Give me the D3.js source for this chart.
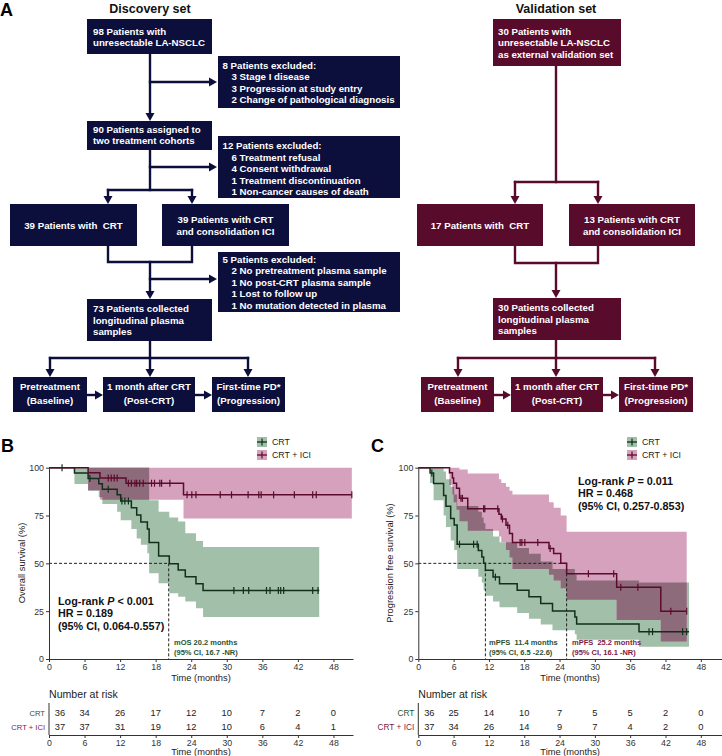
<!DOCTYPE html>
<html><head><meta charset="utf-8">
<script src="https://cdn.jsdelivr.net/npm/d3@7/dist/d3.min.js"></script>
<style>
body{margin:0;background:#fff}
svg{display:block}
text{font-family:"Liberation Sans",Arial,sans-serif;white-space:pre}
</style>
</head><body>
<svg id="c" width="722" height="756"></svg>
<script>
// ================= DATA =================
// Panel A flowchart texts
const discTop      = ["98 Patients with", "unresectable LA-NSCLC"];
const discExcl1    = ["8 Patients excluded:", "3 Stage I disease", "3 Progression at study entry", "2 Change of pathological diagnosis"];
const discAssigned = ["90 Patients assigned to", "two treatment cohorts"];
const discExcl2    = ["12 Patients excluded:", "6 Treatment refusal", "4 Consent withdrawal", "1 Treatment discontinuation", "1 Non-cancer causes of death"];
const discCRT      = ["39 Patients with  CRT"];
const discICI      = ["39 Patients with CRT", "and consolidation ICI"];
const discExcl3    = ["5 Patients excluded:", "2 No pretreatment plasma sample", "1 No post-CRT plasma sample", "1 Lost to follow up", "1 No mutation detected in plasma"];
const discPlasma   = ["73 Patients collected", "longitudinal plasma", "samples"];
const timepoints   = [["Pretreatment", "(Baseline)"], ["1 month after CRT", "(Post-CRT)"], ["First-time PD*", "(Progression)"]];
const valTop       = ["30 Patients with", "unresectable LA-NSCLC", "as external validation set"];
const valCRT       = ["17 Patients with  CRT"];
const valICI       = ["13 Patients with CRT", "and consolidation ICI"];
const valPlasma    = ["30 Patients collected", "longitudinal plasma", "samples"];

// Panel B: overall survival (months, %)
const osCrtTime   = [0, 4.3, 6.6, 8.4, 9.0, 11.5, 12.1, 13.9, 14.8, 15.5, 16.6, 16.9, 18.5, 20.3, 21.8, 23.0, 24.8, 26.0];
const osCrtSurv   = [100, 97.2, 94.4, 91.6, 88.8, 85.8, 82.6, 79.0, 75.3, 71.6, 67.9, 60.9, 53.8, 49.8, 46.5, 43.0, 39.4, 35.8];
const osCrtUpper  = [100, 100, 100, 100, 100, 100, 100, 100, 100, 100, 83, 77, 74, 71.9, 65.8, 61.7, 58.5];
const osCrtLower  = [91.5, 88, 84.5, 81, 77, 72.5, 68, 63, 59.7, 55.3, 44.8, 39.6, 34.4, 32.6, 30.0, 26.5, 22.0];
const osCrtCensor = [2.2, 6.9, 10.0, 12.3, 12.8, 13.4, 31.2, 32.8, 33.7, 36.7, 37.3, 38.7, 39.1, 39.6, 44.5, 45.4];
const osCrtEnd    = 45.6;
const osIciTime   = [0, 6.6, 8.6, 13.0, 22.7];
const osIciSurv   = [100, 97.3, 94.6, 91.9, 85.8];
const osIciUpper  = [100, 100, 100, 100];
const osIciLower  = [88.2, 83.2, 83.2, 73.5];
const osIciCensor = [10.0, 10.5, 11.0, 11.5, 13.4, 13.9, 14.5, 14.8, 15.3, 15.9, 17.3, 17.8, 18.7, 19.0, 20.4, 23.3, 24.1, 24.8, 28.9, 30.8, 33.6, 35.4, 35.8, 37.9, 41.4, 44.5, 45.1, 51.1];
const osIciEnd    = 51.1;

// Panel C: progression free survival
const pfsCrtTime   = [0, 2.0, 2.6, 4.3, 4.7, 5.5, 6.1, 6.6, 10.2, 10.8, 11.1, 11.4, 12.7, 13.8, 16.8, 18.8, 20.8, 22.8, 26.6, 26.9, 37.5];
const pfsCrtSurv   = [100, 97.2, 91.7, 85.5, 79.8, 73.4, 70.0, 60.0, 56.7, 53.3, 50.0, 46.4, 42.8, 39.3, 36.0, 32.5, 29.0, 25.1, 22.0, 18.3, 14.3];
const pfsCrtUpper  = [100, 100, 98, 94, 90, 86, 80, 77, 74, 71, 68, 64, 61, 58, 55, 51, 47, 44, 41, 40];
const pfsCrtLower  = [92, 83, 75, 69, 62, 57, 47, 43, 40, 36, 33, 30, 27, 24, 21, 18, 15, 13, 10, 6.4];
const pfsCrtCensor = [2.3, 7.0, 9.4, 10.0, 13.1, 39.2, 39.8, 44.9, 45.6];
const pfsCrtEnd    = 46.0;
const pfsIciTime   = [0, 5.3, 5.8, 6.0, 6.5, 7.0, 8.4, 13.7, 14.1, 14.9, 15.5, 16.0, 22.2, 23.0, 24.2, 25.2, 33.7, 41.2];
const pfsIciSurv   = [100, 97.3, 94.6, 91.9, 89.2, 84.0, 78.5, 75.7, 73.2, 69.9, 65.6, 60.9, 57.7, 55.1, 50.0, 44.6, 37.5, 24.9];
const pfsIciUpper  = [100, 100, 100, 100, 99, 97, 94, 92, 90, 88, 86, 82, 79, 75, 66.5, 66.5, 66.5];
const pfsIciLower  = [91, 86, 82, 78, 72, 67, 64, 61, 57, 53, 47, 44, 41, 37, 31, 20.4, 9.1];
const pfsIciCensor = [7.25, 7.5, 11.1, 11.3, 13.5, 14.3, 15.2, 17.3, 17.6, 18.1, 20.3, 22.4, 28.9, 33.2, 34.4, 37.3, 42.9, 45.6];
const pfsIciEnd    = 45.6;

// Number at risk
const riskTimes     = [0, 6, 12, 18, 24, 30, 36, 42, 48];
const riskOsCrt     = [36, 34, 26, 17, 12, 10, 7, 2, 0];
const riskOsIci     = [37, 37, 31, 19, 12, 10, 6, 4, 1];
const riskPfsCrt    = [36, 25, 14, 10, 7, 5, 5, 2, 0];
const riskPfsIci    = [37, 34, 26, 14, 9, 7, 4, 2, 0];
const survTicks     = [0, 25, 50, 75, 100];
const groupLabels   = ["CRT", "CRT + ICI"];

// ================= STYLE =================
const NAVY = "#0c0f3b", MAROON = "#590b2c";
const GREEN_LINE = "#10301a", PINK_LINE = "#5c0b2c";
const GREEN_BAND = "#a2bfaa", PINK_BAND = "#d5a1bc", OVERLAP = "#8d6b7a";
const GREEN_TXT = "#2a5233", PINK_TXT = "#7d1a45";
const FONT = '"Liberation Sans",Arial,sans-serif';

const svg = d3.select("#c");

// ================= PANEL A =================
const gA = svg.append("g");
gA.append("text").attr("x", 0).attr("y", 16).attr("font-size", 18).attr("font-weight", "bold").text("A");
gA.append("text").attr("x", 150).attr("y", 13).attr("text-anchor", "middle").attr("font-size", 12.5)
  .attr("font-family", '"Open Sans",sans-serif').attr("font-weight", 600).attr("fill", "#111").text("Discovery set");
gA.append("text").attr("x", 556).attr("y", 13).attr("text-anchor", "middle").attr("font-size", 12.5)
  .attr("font-family", '"Open Sans",sans-serif').attr("font-weight", 600).attr("fill", "#111").text("Validation set");

const linesG = gA.append("g"), boxesG = gA.append("g");
function conn(pts, color) {
  linesG.append("path").attr("d", d3.line()(pts)).attr("fill", "none").attr("stroke", color)
    .attr("stroke-width", 2.4).attr("stroke-linecap", "square").attr("stroke-linejoin", "miter");
}
function head(x, y, dir, color) {
  const p = dir === "down" ? [[x - 4.5, y - 8], [x + 4.5, y - 8], [x, y]] : [[x - 8, y - 4.5], [x - 8, y + 4.5], [x, y]];
  boxesG.append("path").attr("d", d3.line()(p) + "Z").attr("fill", color);
}
function arrowDown(x, y0, y1, color) { conn([[x, y0], [x, y1 - 7]], color); head(x, y1, "down", color); }
function arrowRight(x0, x1, y, color) { conn([[x0, y], [x1 - 7, y]], color); head(x1, y, "right", color); }
function box(x, y, w, h, fill, lines, o) {
  boxesG.append("rect").attr("x", x).attr("y", y).attr("width", w).attr("height", h).attr("fill", fill);
  lines.forEach((s, i) => {
    const t = boxesG.append("text").attr("fill", "#fff").attr("font-weight", "bold").attr("font-size", o.fs || 9.7)
      .attr("y", o.b0 + i * o.lh).text(s);
    if (o.center) t.attr("x", x + w / 2).attr("text-anchor", "middle");
    else t.attr("x", x + (o.pad || 6) + (i > 0 ? (o.indent || 0) : 0));
  });
}

// Discovery connectors
arrowDown(150, 54, 121, NAVY);
arrowRight(150, 217, 82, NAVY);
conn([[150, 150], [150, 190]], NAVY);
conn([[108, 190], [192, 190]], NAVY);
arrowDown(108, 190, 204, NAVY);
arrowDown(192, 190, 204, NAVY);
arrowRight(150, 217, 167, NAVY);
conn([[108, 246], [108, 262], [192, 262], [192, 246]], NAVY);
arrowDown(150, 262, 299, NAVY);
arrowRight(150, 217, 279, NAVY);
conn([[150, 341], [150, 358]], NAVY);
conn([[50, 358], [248, 358]], NAVY);
[50, 150, 248].forEach(x => arrowDown(x, 358, 377, NAVY));
arrowRight(87, 103, 395, NAVY);
arrowRight(195, 212, 395, NAVY);

// Discovery boxes
box(87, 19, 125, 35, NAVY, discTop, {b0: 34.5, lh: 11.5});
box(218, 56, 182, 52, NAVY, discExcl1, {b0: 68.5, lh: 11.6, pad: 4.5, indent: 9});
box(87, 121, 125, 29, NAVY, discAssigned, {b0: 132.5, lh: 11.3});
box(218, 136, 182, 62, NAVY, discExcl2, {b0: 149, lh: 11.5, pad: 4.5, indent: 9});
box(10, 204, 127, 42, NAVY, discCRT, {center: true, b0: 228.5, lh: 12});
box(162, 204, 127, 42, NAVY, discICI, {center: true, b0: 222.8, lh: 12.4});
box(218, 252, 182, 60, NAVY, discExcl3, {b0: 262.5, lh: 11.5, pad: 4.5, indent: 9});
box(87, 299, 125, 42, NAVY, discPlasma, {b0: 312, lh: 11.6});
const discBottomX = [[13, 74], [103, 92], [212, 73]];
timepoints.forEach((tp, i) => box(discBottomX[i][0], 377, discBottomX[i][1], 35, NAVY, tp, {center: true, b0: 390.2, lh: 13.3}));

// Validation connectors
conn([[556, 66], [556, 182]], MAROON);
conn([[515, 182], [598, 182]], MAROON);
arrowDown(515, 182, 204, MAROON);
arrowDown(598, 182, 204, MAROON);
conn([[515, 246], [515, 263], [598, 263], [598, 246]], MAROON);
arrowDown(556, 263, 298, MAROON);
conn([[556, 340], [556, 358]], MAROON);
conn([[458, 358], [655, 358]], MAROON);
[458, 556, 655].forEach(x => arrowDown(x, 358, 377, MAROON));
arrowRight(494, 511, 395, MAROON);
arrowRight(603, 619, 395, MAROON);

box(493, 19, 128, 47, MAROON, valTop, {b0: 34.5, lh: 11.5, pad: 5});
box(417, 204, 126, 42, MAROON, valCRT, {center: true, b0: 228.5, lh: 12});
box(569, 204, 126, 42, MAROON, valICI, {center: true, b0: 222.8, lh: 12.4});
box(493, 298, 128, 42, MAROON, valPlasma, {b0: 311, lh: 11.6, pad: 5});
const valBottomX = [[421, 73], [511, 92], [619, 74]];
timepoints.forEach((tp, i) => box(valBottomX[i][0], 377, valBottomX[i][1], 35, MAROON, tp, {center: true, b0: 390.2, lh: 13.3}));

// ================= KM PANELS =================
const y = d3.scaleLinear().domain([0, 100]).range([659, 467.7]);
const xB = d3.scaleLinear().domain([0, 51.3]).range([49, 353]);
const xC = d3.scaleLinear().domain([0, 51.6]).range([418.3, 722]);

function stepAt(T, V, t) { let v = V[0]; for (let i = 0; i < T.length; i++) if (T[i] <= t) v = V[i]; return v; }
function mk(time, surv, up, lo, cens, end, line, band) {
  return {T: time, S: surv, bT: time.slice(1), up, lo, cens, end, line, band};
}
function styleAxis(a) {
  a.attr("font-family", FONT);
  a.select(".domain").attr("stroke", "#333");
  a.selectAll(".tick line").attr("stroke", "#333");
  a.selectAll(".tick text").attr("font-size", 8.8).attr("fill", "#333");
}

function drawKM(x, series, opt) {
  const g = svg.append("g");
  const area = d3.area().curve(d3.curveStepAfter).x(d => x(d.t)).y0(d => y(d.lo)).y1(d => y(d.up));
  series.forEach(s => {
    const pts = s.bT.map((t, i) => ({t, lo: s.lo[i], up: s.up[i]}));
    pts.push({t: s.end, lo: s.lo[s.lo.length - 1], up: s.up[s.up.length - 1]});
    g.append("path").attr("d", area(pts)).attr("fill", s.band);
  });
  // overlap of the two confidence bands
  const a = series[0], b = series[1];
  const st = Math.max(a.bT[0], b.bT[0]), en = Math.min(a.end, b.end);
  const grid = Array.from(new Set([st, en, ...a.bT, ...b.bT].filter(t => t >= st && t <= en))).sort((p, q) => p - q);
  const ov = grid.map(t => {
    const lo = Math.max(stepAt(a.bT, a.lo, t), stepAt(b.bT, b.lo, t));
    const up = Math.min(stepAt(a.bT, a.up, t), stepAt(b.bT, b.up, t));
    return {t, lo, up: Math.max(lo, up)};
  });
  g.append("path").attr("d", area(ov)).attr("fill", OVERLAP);

  // median dashed lines
  const dmax = d3.max(opt.medians);
  g.append("line").attr("x1", x(0)).attr("x2", x(dmax)).attr("y1", y(50)).attr("y2", y(50))
    .attr("stroke", "#222").attr("stroke-width", 1).attr("stroke-dasharray", "3,2");
  opt.medians.forEach(m => g.append("line").attr("x1", x(m)).attr("x2", x(m)).attr("y1", y(50)).attr("y2", y(0))
    .attr("stroke", "#222").attr("stroke-width", 1).attr("stroke-dasharray", "3,2"));

  // curves
  series.forEach(s => {
    const pts = s.T.map((t, i) => [x(t), y(s.S[i])]);
    pts.push([x(s.end), y(s.S[s.S.length - 1])]);
    g.append("path").attr("d", d3.line().curve(d3.curveStepAfter)(pts)).attr("fill", "none")
      .attr("stroke", s.line).attr("stroke-width", 1.5);
    s.cens.forEach(c => {
      const yy = y(stepAt(s.T, s.S, c));
      g.append("line").attr("x1", x(c)).attr("x2", x(c)).attr("y1", yy - 3.5).attr("y2", yy + 3.5)
        .attr("stroke", s.line).attr("stroke-width", 1.2);
    });
  });

  // axes
  const ax = g.append("g").attr("transform", "translate(0,659)")
    .call(d3.axisBottom(x).tickValues(riskTimes).tickSize(3).tickPadding(2).tickSizeOuter(0));
  styleAxis(ax);
  const ay = g.append("g").attr("transform", `translate(${x(0)},0)`)
    .call(d3.axisLeft(y).tickValues(survTicks).tickSize(3).tickPadding(2).tickSizeOuter(0));
  styleAxis(ay);
  const xr = x.range();
  g.append("text").attr("x", (xr[0] + xr[1]) / 2).attr("y", 680.5).attr("text-anchor", "middle")
    .attr("font-size", 9.3).attr("fill", "#222").text("Time (months)");
  g.append("text").attr("transform", `translate(${opt.ylabX},563) rotate(-90)`).attr("text-anchor", "middle")
    .attr("font-size", 9.3).attr("fill", "#222").text(opt.ylab);

  // panel letter
  g.append("text").attr("x", opt.letterX).attr("y", 452).attr("font-size", 18).attr("font-weight", "bold").text(opt.letter);

  // legend
  series.forEach((s, i) => {
    const ly = 437 + i * 13;
    g.append("rect").attr("x", opt.legX).attr("y", ly).attr("width", 10).attr("height", 10).attr("fill", s.band);
    g.append("line").attr("x1", opt.legX).attr("x2", opt.legX + 10).attr("y1", ly + 5).attr("y2", ly + 5).attr("stroke", s.line).attr("stroke-width", 1.3);
    g.append("line").attr("x1", opt.legX + 5).attr("x2", opt.legX + 5).attr("y1", ly + 1.5).attr("y2", ly + 8.5).attr("stroke", s.line).attr("stroke-width", 1.2);
    g.append("text").attr("x", opt.legX + 15).attr("y", ly + 8.3).attr("font-size", 8.8).attr("fill", "#222").text(groupLabels[i]);
  });

  // statistics
  opt.stats.forEach((s, i) => {
    const t = g.append("text").attr("x", opt.statX).attr("y", opt.statY + i * 12.7).attr("font-size", 10.8).attr("font-weight", "bold").attr("fill", "#111");
    if (i === 0) {
      t.append("tspan").text("Log-rank ");
      t.append("tspan").attr("font-style", "italic").text("P");
      t.append("tspan").text(s);
    } else t.text(s);
  });
  // median annotations
  opt.notes.forEach(n => {
    n.lines.forEach((l, i) => g.append("text").attr("x", n.x).attr("y", 645 + i * 9.5).attr("font-size", 7.5)
      .attr("font-weight", "bold").attr("fill", n.color).text(l));
  });

  // number at risk table
  const tg = svg.append("g");
  tg.append("text").attr("x", x(0)).attr("y", 698).attr("font-size", 10.6).attr("fill", "#222").text("Number at risk");
  opt.risk.forEach((row, r) => {
    const by = 715.5 + r * 14;
    tg.append("text").attr("x", x(0) - 4).attr("y", by).attr("text-anchor", "end").attr("font-size", opt.labFs)
      .attr("fill", r === 0 ? GREEN_TXT : PINK_TXT).text(groupLabels[r]);
    row.forEach((v, i) => tg.append("text").attr("x", i === 0 ? x(0) + 11 : x(riskTimes[i])).attr("y", by)
      .attr("text-anchor", "middle").attr("font-size", 9.3).attr("fill", "#222").text(v));
  });
  tg.append("line").attr("x1", x(0)).attr("x2", x(0)).attr("y1", 703).attr("y2", 735).attr("stroke", "#333");
  const tax = tg.append("g").attr("transform", "translate(0,735)")
    .call(d3.axisBottom(x).tickValues(riskTimes).tickSize(3).tickPadding(1.5).tickSizeOuter(0));
  styleAxis(tax);
  tg.append("text").attr("x", (xr[0] + xr[1]) / 2).attr("y", 754.5).attr("text-anchor", "middle")
    .attr("font-size", 9.3).attr("fill", "#222").text("Time (months)");
}

drawKM(xB, [
  mk(osCrtTime, osCrtSurv, osCrtUpper, osCrtLower, osCrtCensor, osCrtEnd, GREEN_LINE, GREEN_BAND),
  mk(osIciTime, osIciSurv, osIciUpper, osIciLower, osIciCensor, osIciEnd, PINK_LINE, PINK_BAND)
], {
  medians: [20.2], ylab: "Overall survival (%)", ylabX: 25, letter: "B", letterX: 1, legX: 257, labFs: 7.6,
  stats: [" < 0.001", "HR = 0.189", "(95% CI, 0.064-0.557)"], statX: 58, statY: 604.5,
  notes: [{x: 174, color: GREEN_TXT, lines: ["mOS 20.2 months", "(95% CI, 16.7 -NR)"]}],
  risk: [riskOsCrt, riskOsIci]
});

drawKM(xC, [
  mk(pfsCrtTime, pfsCrtSurv, pfsCrtUpper, pfsCrtLower, pfsCrtCensor, pfsCrtEnd, GREEN_LINE, GREEN_BAND),
  mk(pfsIciTime, pfsIciSurv, pfsIciUpper, pfsIciLower, pfsIciCensor, pfsIciEnd, PINK_LINE, PINK_BAND)
], {
  medians: [11.4, 25.2], ylab: "Progression free survival (%)", ylabX: 393, letter: "C", letterX: 371, legX: 627, labFs: 8.3,
  stats: [" = 0.011", "HR = 0.468", "(95% CI, 0.257-0.853)"], statX: 578, statY: 484.5,
  notes: [{x: 489, color: GREEN_TXT, lines: ["mPFS  11.4 months", "(95% CI, 6.5 -22.6)"]},
          {x: 572, color: PINK_TXT, lines: ["mPFS  25.2 months", "(95% CI, 16.1 -NR)"]}],
  risk: [riskPfsCrt, riskPfsIci]
});
</script>
</body></html>
